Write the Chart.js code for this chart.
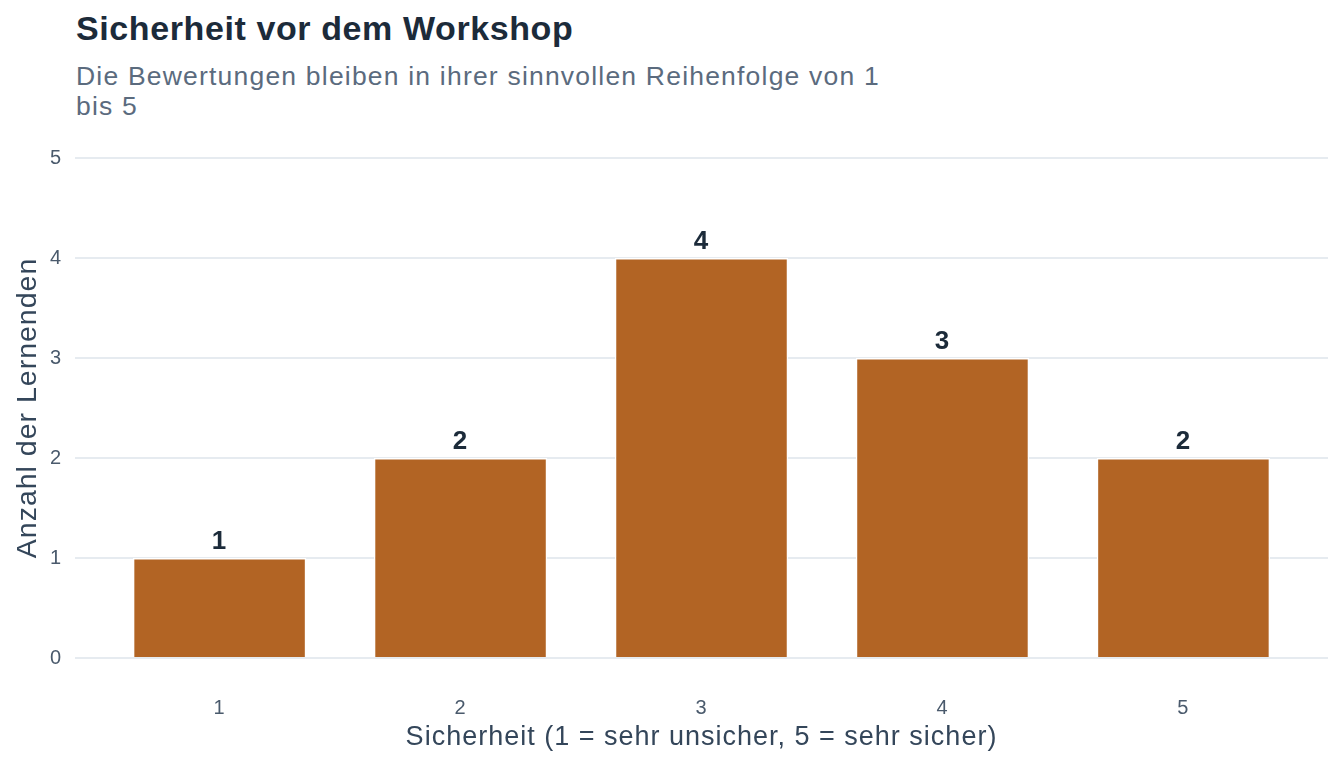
<!DOCTYPE html>
<html>
<head>
<meta charset="utf-8">
<script src="https://cdn.jsdelivr.net/npm/chart.js@4/dist/chart.umd.min.js"></script>
<style>
  html, body { margin: 0; padding: 0; background: #ffffff; }
  #wrap { position: relative; width: 1344px; height: 768px; font-family: "Liberation Sans", Arial, sans-serif; }
  #title { position: absolute; left: 76px; top: 11px; font-size: 34px; line-height: 34px; letter-spacing: 0.6px; font-weight: bold; color: #1c2b3a; white-space: nowrap; }
  #subtitle { position: absolute; left: 76px; top: 61px; font-size: 26.5px; line-height: 30px; letter-spacing: 1.2px; color: #5b6b7e; white-space: nowrap; }
  canvas { position: absolute; left: 0; top: 0; }
</style>
</head>
<body>
<div id="wrap">
  <div id="title">Sicherheit vor dem Workshop</div>
  <div id="subtitle">Die Bewertungen bleiben in ihrer sinnvollen Reihenfolge von 1<br>bis 5</div>
  <canvas id="myChart" width="1344" height="768"></canvas>
</div>
<script>
// Ratings and how many learners picked each
const ratings = [1, 2, 3, 4, 5];
const counts = [1, 2, 4, 3, 2];
const yTicks = [0, 1, 2, 3, 4, 5];

const barColor = '#b26424';
const textDark = '#1c2b3a';
const axisGrey = '#4a5a6c';
const fontFamily = '"Liberation Sans", Arial, sans-serif';

// The reference text is set a little wider, so space the letters out
const spacing = {
  id: 'spacing',
  beforeDraw(chart) { chart.ctx.letterSpacing = '1px'; },
  afterDraw(chart) { chart.ctx.letterSpacing = '0px'; }
};

// Write the count above each bar
const barLabels = {
  id: 'barLabels',
  afterDatasetsDraw(chart) {
    const ctx = chart.ctx;
    const meta = chart.getDatasetMeta(0);
    ctx.save();
    ctx.font = 'bold 26px ' + fontFamily;
    ctx.fillStyle = textDark;
    ctx.textAlign = 'center';
    ctx.textBaseline = 'alphabetic';
    meta.data.forEach((bar, i) => {
      ctx.fillText(counts[i], bar.x, bar.y - 9.5);
    });
    ctx.restore();
  }
};

const ctx = document.getElementById('myChart').getContext('2d');
new Chart(ctx, {
  type: 'bar',
  data: {
    datasets: [{
      data: ratings.map((r, i) => ({ x: r, y: counts[i] })),
      backgroundColor: barColor,
      borderColor: '#ffffff',
      borderWidth: 1.5,
      barPercentage: 0.72,
      categoryPercentage: 1
    }]
  },
  options: {
    responsive: false,
    animation: false,
    layout: { padding: { left: 0, right: 16, top: 158, bottom: 0 } },
    plugins: {
      legend: { display: false },
      tooltip: { enabled: false }
    },
    scales: {
      x: {
        type: 'linear',
        min: 0.4,
        max: 5.6,
        offset: false,
        afterBuildTicks: s => { s.ticks = ratings.map(v => ({ value: v })); },
        afterFit: s => { s.height = 110; },
        grid: { display: false, drawTicks: false, offset: false },
        border: { display: false },
        ticks: {
          color: axisGrey,
          padding: 38,
          font: { family: fontFamily, size: 20 }
        },
        title: {
          display: true,
          text: 'Sicherheit (1 = sehr unsicher, 5 = sehr sicher)',
          color: '#34465a',
          font: { family: fontFamily, size: 27 },
          padding: { top: 0, bottom: 14 }
        }
      },
      y: {
        min: 0,
        max: 5,
        afterBuildTicks: s => { s.ticks = yTicks.map(v => ({ value: v })); },
        afterFit: s => { s.width = 75; },
        grid: { color: '#e6ebf0', lineWidth: 2, drawTicks: false },
        border: { display: false },
        ticks: {
          color: axisGrey,
          padding: 13,
          font: { family: fontFamily, size: 20 }
        },
        title: {
          display: true,
          text: 'Anzahl der Lernenden',
          color: '#34465a',
          font: { family: fontFamily, size: 28.5 },
          padding: { top: 11, bottom: 0 }
        }
      }
    }
  },
  plugins: [spacing, barLabels]
});
</script>
</body>
</html>
